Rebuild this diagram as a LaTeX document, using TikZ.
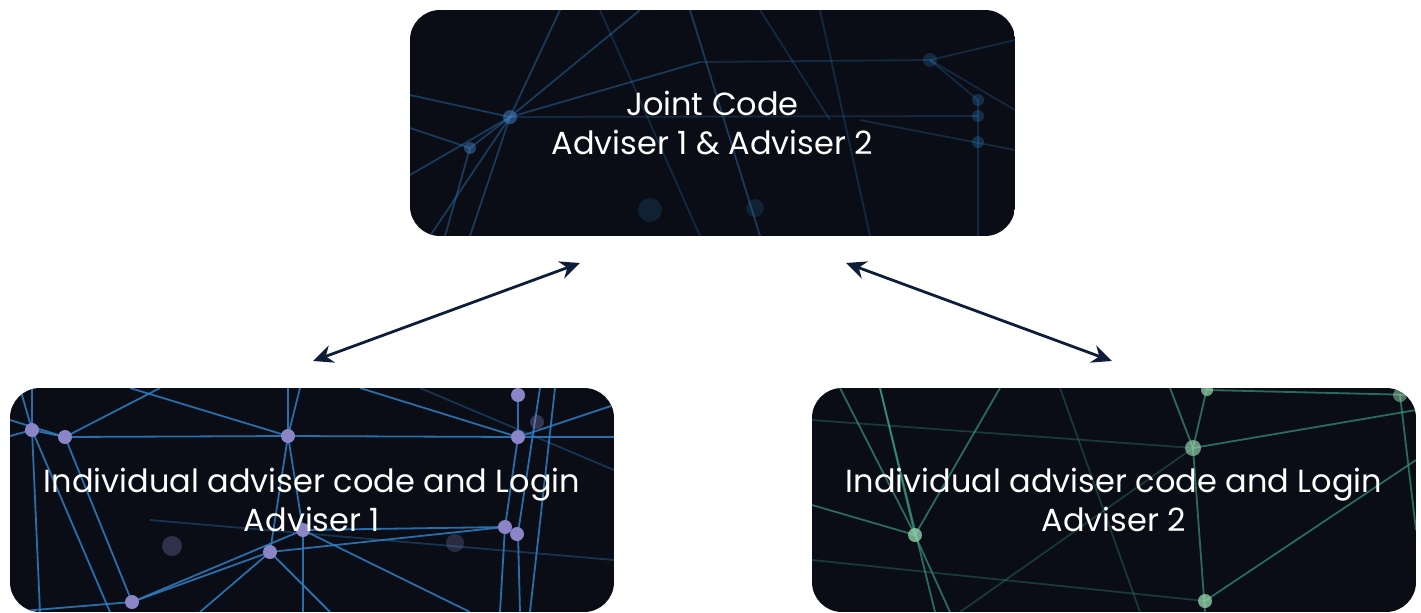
\documentclass[tikz,border=0pt]{standalone}
\usepackage{fontspec}
\setmainfont{Poppins}
\usetikzlibrary{arrows.meta}
\definecolor{boxbg}{HTML}{0A0D15}
\definecolor{netblue}{HTML}{2F7FC4}
\definecolor{netdot}{HTML}{8A85C6}
\definecolor{netgreen}{HTML}{3C9E86}
\definecolor{greendot}{HTML}{9AD8B0}
\definecolor{arrowc}{HTML}{0E1E3A}
\tikzset{
  boxshape/.style={rounded corners=15pt},
  boxtext/.style={text=white, align=center, font=\fontsize{16}{19.5}\selectfont,
    minimum width=302pt, minimum height=112pt, inner sep=0pt},
  netline/.style={line width=0.9pt},
  link/.style={draw=arrowc, line width=1.4pt, {Stealth[length=10pt,width=9pt]}-{Stealth[length=10pt,width=9pt]}},
}
\begin{document}
\begin{tikzpicture}[x=0.5pt,y=-0.5pt]
\useasboundingbox (0,0) rectangle (1421,612);

% ---------- top box background
\begin{scope}
\clip[boxshape] (410,10) rectangle (1015,236);
\fill[boxbg] (410,10) rectangle (1015,236);
\begin{scope}[netline, draw=netblue, draw opacity=0.4]
\draw (410,95) -- (510,117) -- (700,62);
\draw (510,117) -- (560,10);
\draw (510,117) -- (430,236);
\draw (510,117) -- (470,236);
\draw (470,148) -- (410,128);
\draw (470,148) -- (445,236);
\draw (470,148) -- (510,117);
\draw (410,175) -- (510,117) -- (640,10);
\draw (690,10) -- (760,236);
\end{scope}
\begin{scope}[netline, draw=netblue, draw opacity=0.25]
\draw (700,62) -- (930,60) -- (978,100);
\draw (930,60) -- (1015,40);
\draw (978,100) -- (978,236);
\draw (930,60) -- (1015,110);
\draw (510,117) -- (978,116);
\draw (760,10) -- (830,120);
\draw (820,10) -- (870,236);
\draw (860,120) -- (1015,150);
\draw (600,10) -- (700,236);
\end{scope}
\fill[netblue!70!netdot, opacity=0.5] (510,117) circle (7);
\fill[netblue!70!netdot, opacity=0.45] (470,148) circle (6);
\fill[netblue, opacity=0.3] (978,100) circle (6);
\fill[netblue, opacity=0.3] (978,116) circle (6);
\fill[netblue, opacity=0.3] (978,142) circle (6);
\fill[netblue, opacity=0.25] (930,60) circle (7);
\fill[netblue, opacity=0.18] (650,210) circle (12);
\fill[netblue, opacity=0.18] (755,208) circle (9);
\end{scope}

% ---------- bottom-left box background
\begin{scope}
\clip[boxshape] (10,388) rectangle (614,612);
\fill[boxbg] (10,388) rectangle (614,612);
\begin{scope}[netline, draw=netblue, draw opacity=0.85]
\draw (10,436) -- (32,430) -- (65,437) -- (288,436) -- (518,437) -- (614,437);
\draw (32,388) -- (32,430) -- (40,612);
\draw (20,388) -- (32,430);
\draw (65,437) -- (132,602);
\draw (32,430) -- (110,612);
\draw (65,437) -- (160,388);
\draw (65,437) -- (10,420);
\draw (130,388) -- (288,436) -- (300,388);
\draw (288,388) -- (288,436) -- (303,530) -- (303,612);
\draw (288,436) -- (270,552);
\draw (270,552) -- (505,527);
\draw (303,530) -- (505,527);
\draw (132,602) -- (303,530);
\draw (132,602) -- (270,552);
\draw (10,612) -- (132,602);
\draw (270,552) -- (200,612);
\draw (270,552) -- (330,612);
\draw (303,530) -- (470,612);
\draw (518,388) -- (518,437) -- (505,527) -- (500,612);
\draw (540,388) -- (518,533) -- (520,612);
\draw (555,388) -- (530,612);
\draw (518,437) -- (614,405);
\draw (360,388) -- (518,437);
\end{scope}
\begin{scope}[netline, draw=netblue, draw opacity=0.35]
\draw (420,388) -- (614,470);
\draw (150,520) -- (614,560);
\end{scope}
\fill[netdot] (32,430) circle (7);
\fill[netdot] (65,437) circle (7);
\fill[netdot] (288,436) circle (7);
\fill[netdot] (518,395) circle (7);
\fill[netdot] (518,437) circle (7);
\fill[netdot] (505,527) circle (7);
\fill[netdot] (517,534) circle (7);
\fill[netdot] (303,530) circle (7);
\fill[netdot] (270,552) circle (7);
\fill[netdot] (132,602) circle (7);
\fill[netdot, opacity=0.35] (537,422) circle (7);
\fill[netdot, opacity=0.3] (172,546) circle (10);
\fill[netdot, opacity=0.25] (455,543) circle (9);
\end{scope}

% ---------- bottom-right box background
\begin{scope}
\clip[boxshape] (812,388) rectangle (1416,612);
\fill[boxbg] (812,388) rectangle (1416,612);
\begin{scope}[netline, draw=netgreen, draw opacity=0.65]
\draw (1207,388) -- (1193,448) -- (1205,612);
\draw (915,535) -- (880,388);
\draw (915,535) -- (950,612);
\draw (915,535) -- (812,505);
\draw (915,535) -- (1000,388);
\draw (840,388) -- (915,535);
\draw (880,388) -- (935,612);
\draw (1193,448) -- (1416,410);
\draw (1205,601) -- (1416,460);
\draw (1193,448) -- (1170,388);
\draw (1207,390) -- (1416,395);
\draw (1400,395) -- (1416,530);
\end{scope}
\begin{scope}[netline, draw=netgreen, draw opacity=0.3]
\draw (812,560) -- (1205,601);
\draw (812,420) -- (1193,448);
\draw (1060,388) -- (1140,612);
\draw (960,612) -- (1193,448);
\end{scope}
\fill[greendot, opacity=0.75] (915,535) circle (7);
\fill[greendot, opacity=0.65] (1193,448) circle (8);
\fill[greendot, opacity=0.7] (1207,390) circle (6);
\fill[greendot, opacity=0.75] (1205,601) circle (7);
\fill[greendot, opacity=0.5] (1400,395) circle (7);
\end{scope}

% ---------- text nodes
\node[boxtext] (top) at (712.5,123) {Joint Code\\Adviser 1 \& Adviser 2};
\node[boxtext] (left) at (312,500) {Individual adviser code and Login\\Adviser 1};
\node[boxtext] (right) at (1114,500) {Individual adviser code and Login\\Adviser 2};

% ---------- connectors
\coordinate (t1) at (580,263);
\coordinate (l1) at (313,361);
\coordinate (t2) at (846,263);
\coordinate (r1) at (1112,361);
\draw[link] (l1) -- (t1);
\draw[link] (t2) -- (r1);
\end{tikzpicture}
\end{document}
